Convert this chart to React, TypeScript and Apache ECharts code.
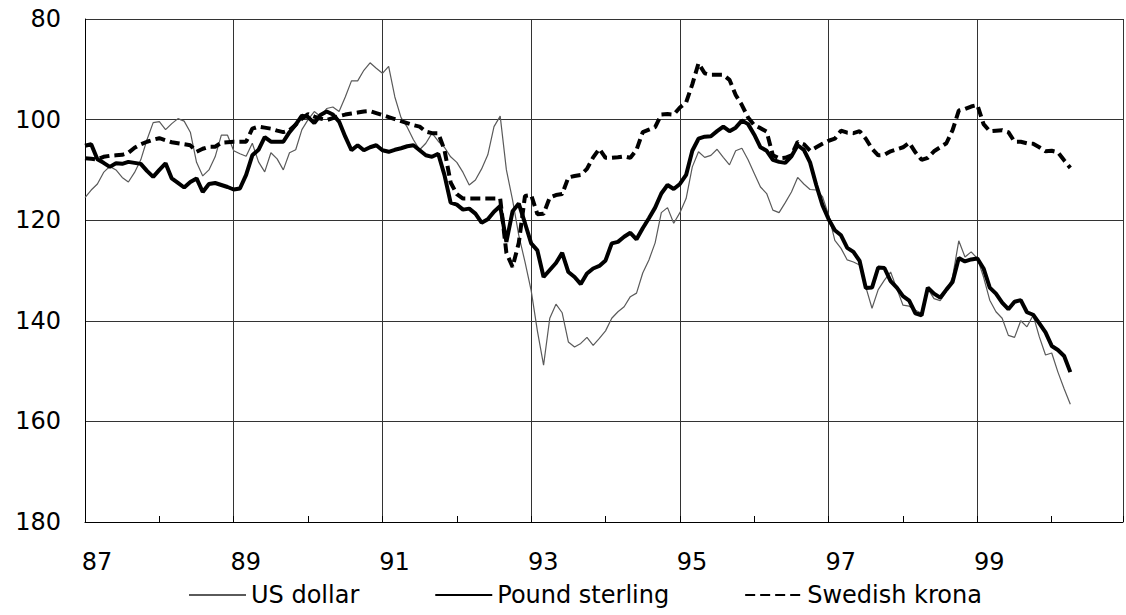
import { useEffect, useRef } from "react";
import * as echarts from "echarts";

// Monthly index values, January 1987 onwards (inverted scale)
const usDollar = [
  115.5, 114, 112.8, 110.5, 109.3, 110, 111.5, 112.4, 110.5, 108, 104, 100.6,
  100.4, 102, 100.8, 99.8, 100.3, 102.5, 108.5, 111.2, 110, 107.4, 103.1, 103.1,
  106.2, 106.8, 107.3, 104.7, 108.4, 110.4, 106.6, 107.8, 110, 106.6, 106, 102,
  100, 98.4, 99.4, 97.8, 97.5, 98.4, 95.5, 92.3, 92.3, 90.2, 88.7, 89.8,
  90.8, 89.4, 95.5, 99.6, 101.5, 104, 106, 104.7, 102.7, 104.3, 105.5, 107.4,
  108.5, 110.5, 113, 112, 109.8, 107, 101.4, 99.3, 110, 116, 123, 128.3,
  134, 142, 148.8, 139.5, 136.7, 138.4, 144.2, 145.2, 144.5, 143.3, 144.9, 143.5,
  142, 139.5, 138.2, 137.2, 135.2, 134.5, 130.5, 127.9, 124.5, 118.5, 117.5, 120.6,
  118.5, 115.7, 109.4, 106.4, 107.5, 107.1, 105.9, 107.5, 109, 106.2, 105.7, 108,
  110.7, 113.4, 114.7, 118, 118.5, 116.5, 114.4, 111.5, 112.8, 113.9, 114, 115.3,
  119, 124, 125.6, 127.9, 128.3, 128.9, 133.3, 137.5, 133.8, 131.9, 130.3, 133.6,
  136.9, 137.1, 137.9, 138.5, 133.6, 135.6, 136, 134.2, 131.3, 124.1, 127.3, 126.3,
  127.6, 131.3, 135.9, 138.2, 139.5, 142.9, 143.3, 140, 141.2, 138.9, 143.2, 146.8,
  146.4, 150.2, 153.5, 156.6,
];

const poundSterling = [
  105.2, 104.9, 107.9, 108.6, 109.4, 108.7, 108.8, 108.4, 108.6, 108.8, 110.2, 111.4,
  110, 108.7, 111.7, 112.6, 113.5, 112.4, 111.7, 114.4, 112.8, 112.6, 113, 113.4,
  113.9, 113.7, 111, 107.1, 106, 103.5, 104.4, 104.4, 104.4, 102.5, 101, 99.2,
  99.5, 100.7, 99.1, 98.4, 99, 100.4, 103.4, 106.1, 105.1, 106.1, 105.5, 105.1,
  106.1, 106.4, 106, 105.7, 105.3, 105.1, 106.1, 107.1, 107.4, 106.8, 111, 116.5,
  116.9, 117.9, 117.7, 118.7, 120.5, 119.8, 118.3, 117.2, 124.3, 118.2, 116.7, 120.6,
  124.6, 126, 131.3, 129.9, 128.5, 126.5, 130.3, 131.3, 132.7, 130.6, 129.6, 129.1,
  128, 124.6, 124.3, 123.3, 122.5, 123.8, 121.6, 119.6, 117.5, 114.7, 113, 113.8,
  112.8, 111, 106.2, 103.8, 103.4, 103.3, 102.3, 101.4, 102.3, 101.6, 100.2, 100.9,
  103, 105.5, 106.2, 108, 108.4, 108.6, 107.3, 105.1, 106, 108.5, 113, 117,
  119.8, 122, 123, 125.5, 126.3, 128.1, 133.5, 133.4, 129.4, 129.5, 132.1, 133.4,
  135.1, 136, 138.5, 138.9, 133.4, 134.6, 135.4, 133.8, 132.3, 127.5, 128.2, 127.8,
  127.6, 129.6, 133.4, 134.6, 136.4, 137.7, 136.2, 135.9, 138.3, 138.8, 140.5, 142.3,
  145, 145.8, 147, 150.2,
];

const swedishKrona = [
  107.7, 107.8, 107.9, 107.4, 107.2, 107.1, 107, 106.6, 105.6, 104.9, 104.4, 104,
  103.7, 104.1, 104.5, 104.7, 104.9, 105.1, 106.4, 105.8, 105.4, 105.4, 104.6, 104.5,
  104.4, 104.4, 104.4, 101.8, 101.4, 101.6, 101.8, 102.2, 102.5, 102.1, 101, 99.8,
  98.9, 99.4, 99.8, 100.1, 99.7, 99.3, 99, 98.8, 98.6, 98.4, 98.3, 98.7,
  99.1, 99.5, 99.9, 100.3, 100.7, 101.1, 101.4, 102.4, 102.7, 102.7, 106, 112.5,
  114.8, 115.7, 115.7, 115.7, 115.7, 115.7, 115.7, 115.7, 126.5, 129.3, 124.5, 115.2,
  115, 118.8, 118.7, 115.5, 115, 114.8, 111.5, 111.2, 111, 109.8, 107.5, 105.8,
  107.6, 107.6, 107.5, 107.3, 107.6, 106, 102.5, 102, 101.5, 99, 98.9, 99,
  97.6, 96.6, 93, 88.8, 90.8, 91.1, 91.1, 91.1, 92.1, 95.1, 97.1, 99.6,
  101.1, 101.7, 102.4, 107.1, 107.7, 107.6, 107.1, 104.4, 104.9, 106.2, 105.5, 104.8,
  104.2, 103.8, 102.2, 102.6, 102.7, 102.3, 103.8, 105.8, 107.1, 107, 106.3, 105.9,
  105.5, 104.6, 106.5, 108, 107.6, 106.3, 105.5, 104.7, 102.1, 98.2, 97.9, 97.4,
  97.1, 100.9, 102.3, 102.2, 102.1, 102.5, 104.4, 104.4, 104.7, 104.8, 105.5, 106.3,
  106.2, 106.5, 108.1, 109.6,
];

const seriesNames = ["US dollar", "Pound sterling", "Swedish krona"];
const firstYear = 87;
const yTicks = { min: 80, max: 180, step: 20 };

const font = '"DejaVu Sans", sans-serif';

function toPairs(values: number[]) {
  return values.map((v, i) => [i, v]);
}

export default function App() {
  const chartRef = useRef<HTMLDivElement>(null);

  useEffect(() => {
    if (!chartRef.current) return;
    const chart = echarts.init(chartRef.current, null, { renderer: "svg" });

    const option: echarts.EChartsOption = {
      animation: false,
      backgroundColor: "#ffffff",
      grid: { left: 85, right: -5, top: 19, bottom: 93 },
      legend: {
        left: 183,
        top: 578,
        itemWidth: 57,
        itemHeight: 24,
        itemGap: 75,
        itemStyle: { opacity: 0 },
        textStyle: { fontFamily: font, fontSize: 24, color: "#000" },
        data: seriesNames,
      },
      xAxis: [
        {
          type: "value",
          min: 0,
          max: 167.5,
          interval: 24,
          axisLine: { show: true, lineStyle: { color: "#000", width: 1 } },
          axisTick: { show: false },
          splitLine: { show: true, lineStyle: { color: "#333", width: 1 } },
          axisLabel: {
            fontFamily: font,
            fontSize: 24,
            color: "#000",
            margin: 28,
            padding: [0, 0, 0, 24],
            formatter: (v: number) => (v % 24 === 0 ? String(firstYear + v / 12) : ""),
          },
        },
        {
          // yearly tick marks pointing into the plot
          type: "value",
          position: "bottom",
          min: 0,
          max: 167.5,
          interval: 12,
          axisLine: { show: false },
          axisTick: { show: true, inside: true, length: 6, lineStyle: { color: "#000" } },
          splitLine: { show: false },
          axisLabel: { show: false },
        },
      ],
      yAxis: {
        type: "value",
        inverse: true,
        min: yTicks.min,
        max: yTicks.max,
        interval: yTicks.step,
        axisLine: { show: true, lineStyle: { color: "#000", width: 1 } },
        axisTick: { show: false },
        splitLine: { show: true, lineStyle: { color: "#333", width: 1 } },
        axisLabel: { fontFamily: font, fontSize: 24, color: "#000", margin: 24 },
      },
      series: [
        {
          name: seriesNames[0],
          type: "line",
          symbol: "none",
          data: toPairs(usDollar),
          lineStyle: { color: "#5a5a5a", width: 1.2 },
          itemStyle: { color: "#5a5a5a" },
        },
        {
          name: seriesNames[1],
          type: "line",
          symbol: "none",
          data: toPairs(poundSterling),
          lineStyle: { color: "#000", width: 4 },
          itemStyle: { color: "#000" },
        },
        {
          name: seriesNames[2],
          type: "line",
          symbol: "none",
          data: toPairs(swedishKrona),
          lineStyle: { color: "#000", width: 4, type: [10, 5] },
          itemStyle: { color: "#000" },
        },
      ],
    };

    chart.setOption(option);
    return () => chart.dispose();
  }, []);

  return (
    <div
      ref={chartRef}
      style={{ position: "fixed", left: 0, top: 0, width: 1126, height: 615, background: "#fff" }}
    />
  );
}
